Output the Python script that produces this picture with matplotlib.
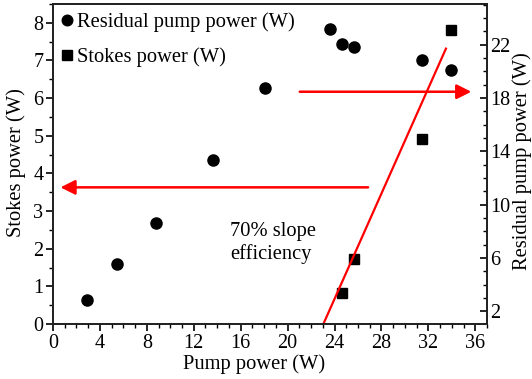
import numpy as np
import matplotlib
matplotlib.use('Agg')
import matplotlib.pyplot as plt
from matplotlib.ticker import MultipleLocator

plt.rcParams['font.family'] = ['Liberation Serif', 'DejaVu Serif']

# residual pump power (right axis)
pump_residual = [2.87, 5.47, 8.77, 13.6, 18.1, 23.6, 24.6, 25.7, 31.5, 33.96]
residual_power = [2.82, 5.54, 8.64, 13.33, 18.73, 23.2, 22.05, 21.85, 20.88, 20.1]

# stokes power (left axis)
pump_stokes = [24.6, 25.7, 31.5, 33.96]
stokes_power = [0.83, 1.74, 4.91, 7.81]

# linear fit, 70% slope
fit_x = [23.05, 33.5]
fit_slope = 0.70

fig = plt.figure(figsize=(5.32, 3.79), dpi=100)
ax = fig.add_axes([0.0996, 0.1451, 0.8158, 0.8443])
ax2 = ax.twinx()

sq, = ax.plot(pump_stokes, stokes_power, 's', color='black', markersize=7,
              linestyle='none', label='Stokes power (W)')
fit_y = [fit_slope * (x - fit_x[0]) for x in fit_x]
ax.plot(fit_x, fit_y, color='red', linewidth=1.6)

circ, = ax2.plot(pump_residual, residual_power, 'o', color='black', markersize=8,
                 linestyle='none', label='Residual pump power (W)')

ax.set_xlim(0, 37)
ax.set_ylim(0, 8.5)
ax2.set_ylim(1.05, 25.05)

ax.xaxis.set_major_locator(MultipleLocator(4))
ax.xaxis.set_minor_locator(MultipleLocator(1))
ax.yaxis.set_major_locator(MultipleLocator(1))
ax.yaxis.set_minor_locator(MultipleLocator(0.5))
ax2.yaxis.set_minor_locator(MultipleLocator(1))
ax2.set_yticks([2, 6, 10, 14, 18, 22])

for a in (ax, ax2):
    a.tick_params(which='major', length=5, width=1.2, labelsize=14.5, pad=2)
    a.tick_params(which='minor', length=3, width=1.0)
    for s in a.spines.values():
        s.set_linewidth(1.3)
        s.set_color('#222222')
# right axis ticks point inward
ax2.tick_params(which='both', direction='in', pad=2.5)

ax.set_xlabel('Pump power (W)', fontsize=14.8)
ax.set_ylabel('Stokes power (W)', fontsize=14.8)
ax2.set_ylabel('Residual pump power (W)', fontsize=14.8)
ax.xaxis.set_label_coords(0.463, -0.094)
ax.yaxis.set_label_coords(-0.062, 0.506)
ax2.yaxis.set_label_coords(1.058, 0.508)

# arrows pointing to the axes
ax.annotate('', xy=(0.4, 3.63), xytext=(27.1, 3.63),
            arrowprops=dict(arrowstyle='-|>', color='red', lw=1.8, mutation_scale=22))
ax.annotate('', xy=(35.9, 6.17), xytext=(20.8, 6.17),
            arrowprops=dict(arrowstyle='-|>', color='red', lw=1.8, mutation_scale=22))

ax.text(15.1, 2.15, '70% slope\nefficiency', fontsize=14.8, va='center', ha='left',
        linespacing=1.25)

ax2.legend(handles=[circ, sq], loc='upper left', frameon=False, fontsize=14.8,
           handlelength=0.6, handletextpad=0.15, labelspacing=0.75,
           borderaxespad=0.2, borderpad=0.2, markerscale=0.95)

fig.savefig('out.png', dpi=100)
